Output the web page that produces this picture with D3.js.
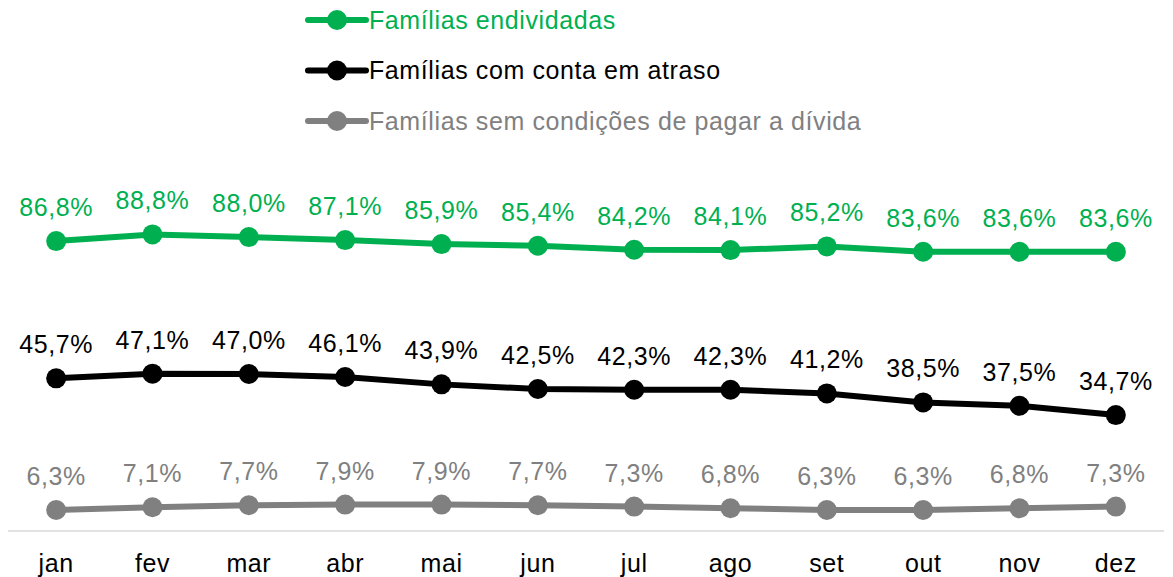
<!DOCTYPE html>
<html>
<head>
<meta charset="utf-8">
<script src="https://cdn.jsdelivr.net/npm/d3@7"></script>
<style>
  body { margin: 0; background: #fff; }
  text { font-family: "Liberation Sans", Arial, sans-serif; letter-spacing: 0.6px; }
</style>
</head>
<body>
<div id="chart"></div>
<script>
var months = ["jan", "fev", "mar", "abr", "mai", "jun", "jul", "ago", "set", "out", "nov", "dez"];
var endividadas = [86.8, 88.8, 88.0, 87.1, 85.9, 85.4, 84.2, 84.1, 85.2, 83.6, 83.6, 83.6];
var contaAtraso = [45.7, 47.1, 47.0, 46.1, 43.9, 42.5, 42.3, 42.3, 41.2, 38.5, 37.5, 34.7];
var semCondicoes = [6.3, 7.1, 7.7, 7.9, 7.9, 7.7, 7.3, 6.8, 6.3, 6.3, 6.8, 7.3];
var seriesNames = ["Famílias endividadas", "Famílias com conta em atraso", "Famílias sem condições de pagar a dívida"];
var seriesColors = ["#00B050", "#000000", "#808080"];

var series = [endividadas, contaAtraso, semCondicoes].map(function (vals, i) {
  return { name: seriesNames[i], color: seriesColors[i], values: vals };
});

var width = 1173, height = 577;

var svg = d3.select("#chart").append("svg")
  .attr("width", width)
  .attr("height", height);

var x = d3.scaleBand()
  .domain(months)
  .range([8, 1164]);

var y = d3.scaleLinear()
  .domain([0, 100])
  .range([531, 197]);

// baseline
svg.append("line")
  .attr("x1", 8).attr("x2", 1164)
  .attr("y1", y(0)).attr("y2", y(0))
  .attr("stroke", "#d9d9d9")
  .attr("stroke-width", 1.5);

// month labels
svg.selectAll("text.month")
  .data(months)
  .enter()
  .append("text")
  .attr("class", "month")
  .attr("x", function (d) { return x(d) + x.bandwidth() / 2; })
  .attr("y", 572)
  .attr("text-anchor", "middle")
  .attr("font-size", 25)
  .attr("fill", "#000")
  .text(function (d) { return d; });

var line = d3.line()
  .x(function (d, i) { return x(months[i]) + x.bandwidth() / 2; })
  .y(function (d) { return y(d); });

var fmt = function (v) { return v.toFixed(1).replace(".", ",") + "%"; };

series.forEach(function (s) {
  var g = svg.append("g");
  g.append("path")
    .datum(s.values)
    .attr("d", line)
    .attr("fill", "none")
    .attr("stroke", s.color)
    .attr("stroke-width", 6)
    .attr("stroke-linejoin", "round");

  g.selectAll("circle")
    .data(s.values)
    .enter()
    .append("circle")
    .attr("cx", function (d, i) { return x(months[i]) + x.bandwidth() / 2; })
    .attr("cy", function (d) { return y(d); })
    .attr("r", 10)
    .attr("fill", s.color);

  g.selectAll("text")
    .data(s.values)
    .enter()
    .append("text")
    .attr("x", function (d, i) { return x(months[i]) + x.bandwidth() / 2; })
    .attr("y", function (d) { return y(d) - 25; })
    .attr("text-anchor", "middle")
    .attr("font-size", 25)
    .attr("fill", s.color)
    .text(fmt);
});

// legend
var legend = svg.selectAll("g.legend")
  .data(series)
  .enter()
  .append("g")
  .attr("class", "legend")
  .attr("transform", function (d, i) { return "translate(308," + (20 + i * 50.5) + ")"; });

legend.append("line")
  .attr("x1", 0).attr("x2", 58)
  .attr("y1", 0).attr("y2", 0)
  .attr("stroke", function (d) { return d.color; })
  .attr("stroke-width", 6)
  .attr("stroke-linecap", "round");

legend.append("circle")
  .attr("cx", 29).attr("cy", 0)
  .attr("r", 10)
  .attr("fill", function (d) { return d.color; });

legend.append("text")
  .attr("x", 61)
  .attr("y", 8.5)
  .attr("font-size", 25)
  .attr("fill", function (d) { return d.color; })
  .text(function (d) { return d.name; });
</script>
</body>
</html>
